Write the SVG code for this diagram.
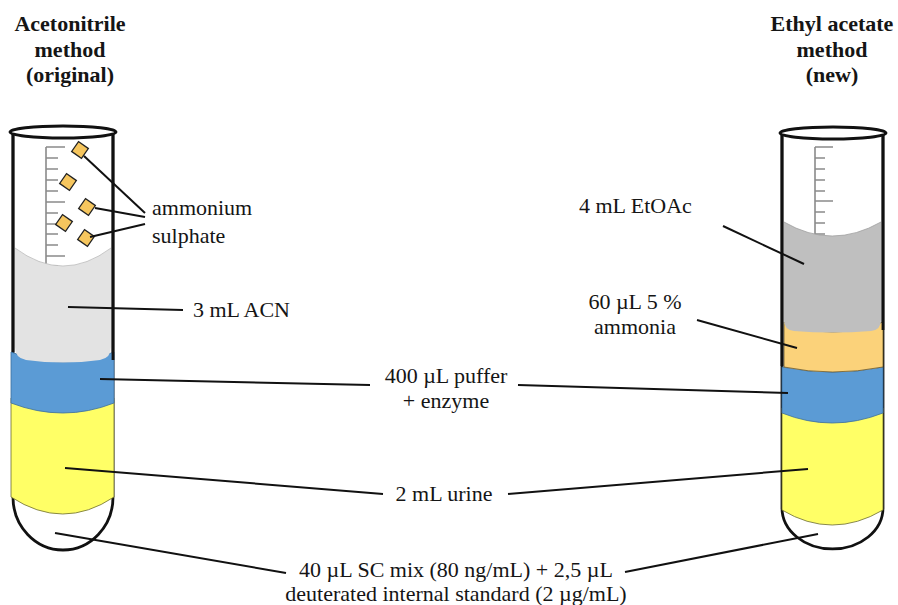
<svg xmlns="http://www.w3.org/2000/svg" width="898" height="605" viewBox="0 0 898 605">
  <style>
    text { font-family: "Liberation Serif", "Times New Roman", serif; font-size: 22px; fill: #151515; }
    .title { font-weight: bold; text-anchor: middle; }
    .mid { text-anchor: middle; }
    .glass { fill: none; stroke: #111; stroke-width: 2.8; }
    .rim { fill: #fff; stroke: #111; stroke-width: 2.8; }
    .scale { stroke: #8a8a8a; stroke-width: 1.6; fill: none; }
    .lead { stroke: #111; stroke-width: 2; fill: none; }
    .crystal { fill: #f6c65e; stroke: #222; stroke-width: 1.3; }
  </style>

  <!-- Titles -->
  <g id="title-left">
    <text class="title" x="70" y="31">Acetonitrile</text>
    <text class="title" x="70" y="57">method</text>
    <text class="title" x="70" y="82">(original)</text>
  </g>
  <g id="title-right">
    <text class="title" x="832" y="31">Ethyl acetate</text>
    <text class="title" x="832" y="57">method</text>
    <text class="title" x="832" y="82">(new)</text>
  </g>

  <!-- Left tube: acetonitrile method -->
  <g id="tube-left">
    <path class="glass" d="M13,133 V497 A50,53 0 0 0 113,497 V133"/>
    <g class="scale">
      <path d="M46,147 V267"/>
      <path d="M46,147 H65 M46,158 H58 M46,169 H58 M46,180 H58 M46,191 H58 M46,202 H65 M46,213 H58 M46,224 H58 M46,234 H58 M46,245 H58 M46,256 H65 M46,266 H58"/>
    </g>
    <!-- urine -->
    <path fill="#ffff66" stroke="#6b6b30" stroke-width="0.8" d="M11,398 H114 V497 Q63,531 11,497 Z"/>
    <!-- buffer + enzyme -->
    <path fill="#5b9bd5" stroke="#3c6e9c" stroke-width="0.8" d="M11,352 Q63,372 114,352 V403 Q63,423 11,403 Z"/>
    <!-- acetonitrile -->
    <path fill="#e3e3e3" d="M15,248 Q63,284 111,248 V347 Q111,358 100,360 Q63,365 26,360 Q15,358 15,347 Z"/>
    <path fill="none" stroke="#bdbdbd" stroke-width="0.8" d="M15,248 Q63,284 111,248"/>
    <path d="M13,133 V352 M113,133 V360" stroke="#111" stroke-width="2.8"/>
    <ellipse class="rim" cx="63" cy="132" rx="53" ry="6"/>
    <!-- ammonium sulphate crystals -->
    <rect class="crystal" x="-6" y="-6" width="12" height="12" transform="translate(80,150) rotate(35)"/>
    <rect class="crystal" x="-6" y="-6" width="12" height="12" transform="translate(68,182) rotate(35)"/>
    <rect class="crystal" x="-6" y="-6" width="12" height="12" transform="translate(87,207) rotate(35)"/>
    <rect class="crystal" x="-6" y="-6" width="12" height="12" transform="translate(64,223) rotate(35)"/>
    <rect class="crystal" x="-6" y="-6" width="12" height="12" transform="translate(86,238) rotate(35)"/>
  </g>

  <!-- Right tube: ethyl acetate method -->
  <g id="tube-right">
    <path class="glass" d="M782,133 V508 A50.5,41 0 0 0 883,508 V133"/>
    <g class="scale">
      <path d="M815,147 V236"/>
      <path d="M815,147 H833 M815,158 H825 M815,169 H825 M815,180 H825 M815,191 H825 M815,201 H833 M815,212 H825 M815,223 H825 M815,234 H825"/>
    </g>
    <!-- urine -->
    <path fill="#ffff66" stroke="#6b6b30" stroke-width="0.8" d="M782,408 H883 V510 Q832,540 782,510 Z"/>
    <!-- buffer + enzyme -->
    <path fill="#5b9bd5" stroke="#3c6e9c" stroke-width="0.8" d="M782,367 Q832,377 883,367 V413 Q832,433 782,413 Z"/>
    <!-- ammonia -->
    <path fill="#fbd27a" stroke="#6b5a30" stroke-width="0.8" d="M784,322 Q832,342 883,322 V367 Q832,377 784,367 Z"/>
    <!-- ethyl acetate -->
    <path fill="#bfbfbf" d="M784,222 Q832,250 881,222 V320 Q881,330 871,331 Q832,334 794,331 Q784,330 784,320 Z"/>
    <path fill="none" stroke="#a0a0a0" stroke-width="0.8" d="M784,222 Q832,250 881,222"/>
    <path d="M782,133 V366 M883,133 V330" stroke="#111" stroke-width="2.8"/>
    <ellipse class="rim" cx="833" cy="133" rx="53" ry="6"/>
  </g>

  <!-- Labels -->
  <g id="label-ammonium">
    <text x="152" y="215">ammonium</text>
    <text x="152" y="243">sulphate</text>
  </g>
  <g id="label-acn">
    <text x="193" y="317">3 mL ACN</text>
  </g>
  <g id="label-etoac">
    <text x="579" y="213">4 mL EtOAc</text>
  </g>
  <g id="label-ammonia">
    <text class="mid" x="635" y="309">60 µL 5 %</text>
    <text class="mid" x="635" y="334">ammonia</text>
  </g>
  <g id="label-buffer">
    <text class="mid" x="446" y="383">400 µL puffer</text>
    <text class="mid" x="446" y="408">+ enzyme</text>
  </g>
  <g id="label-urine">
    <text class="mid" x="444" y="501">2 mL urine</text>
  </g>
  <g id="label-standard">
    <text class="mid" x="456" y="577">40 µL SC mix (80 ng/mL) + 2,5 µL</text>
    <text class="mid" x="456" y="601">deuterated internal standard (2 µg/mL)</text>
  </g>

  <!-- Leader lines -->
  <g id="connectors" class="lead">
    <path d="M84,156 L145,213"/>
    <path d="M95,208 L145,217"/>
    <path d="M90,237 L145,224"/>
    <path d="M68,307 L183,310"/>
    <path d="M723,226 L804,264"/>
    <path d="M697,320 L797,348"/>
    <path d="M100,379 L370,385"/>
    <path d="M518,385 L788,393"/>
    <path d="M65,468 L383,494"/>
    <path d="M508,494 L808,469"/>
    <path d="M55,533 L286,573"/>
    <path d="M625,572 L818,534"/>
  </g>
</svg>
